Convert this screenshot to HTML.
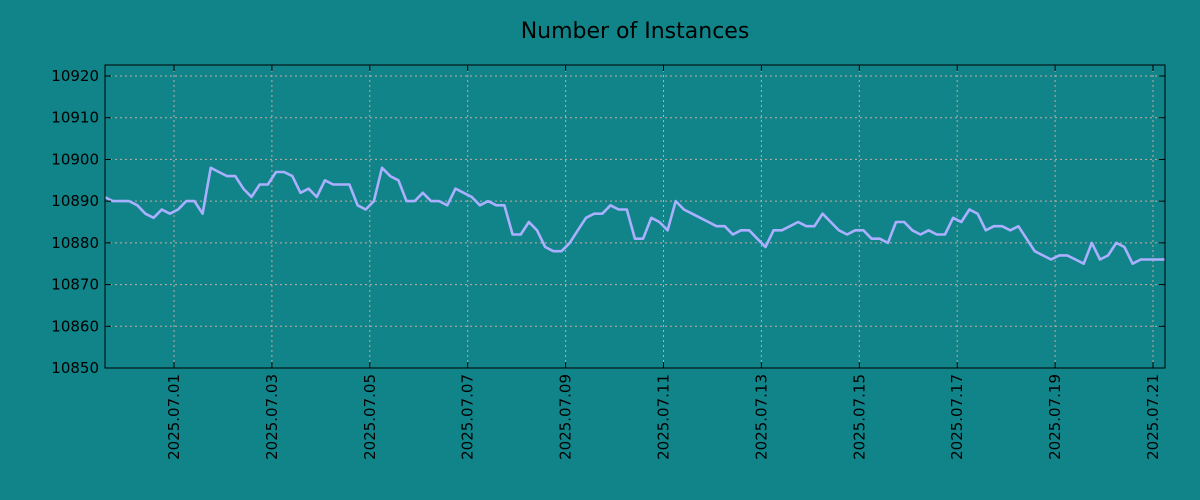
<!DOCTYPE html>
<html><head><meta charset="utf-8"><style>
body{margin:0;background:#108488;}
svg{display:block;font-family:"DejaVu Sans","Liberation Sans",sans-serif;}
</style></head><body>
<svg id="chart" width="1200" height="500" xmlns="http://www.w3.org/2000/svg">
<rect width="1200" height="500" fill="#108488"/>
<text x="635" y="38" font-size="22" text-anchor="middle" fill="#000">Number of Instances</text>
<g id="grid"></g><g id="series"></g><g id="axes"></g>
</svg>
<script>
const startHour = -34; // hours relative to 2025.07.01 00:00
const stepHours = 4;
const values = [10891,10890,10890,10890,10889,10887,10886,10888,10887,10888,10890,10890,10887,10898,10897,10896,10896,10893,10891,10894,10894,10897,10897,10896,10892,10893,10891,10895,10894,10894,10894,10889,10888,10890,10898,10896,10895,10890,10890,10892,10890,10890,10889,10893,10892,10891,10889,10890,10889,10889,10882,10882,10885,10883,10879,10878,10878,10880,10883,10886,10887,10887,10889,10888,10888,10881,10881,10886,10885,10883,10890,10888,10887,10886,10885,10884,10884,10882,10883,10883,10881,10879,10883,10883,10884,10885,10884,10884,10887,10885,10883,10882,10883,10883,10881,10881,10880,10885,10885,10883,10882,10883,10882,10882,10886,10885,10888,10887,10883,10884,10884,10883,10884,10881,10878,10877,10876,10877,10877,10876,10875,10880,10876,10877,10880,10879,10875,10876,10876,10876,10876];
const yTicks = [10850,10860,10870,10880,10890,10900,10910,10920];
const xTickLabels = ["2025.07.01","2025.07.03","2025.07.05","2025.07.07","2025.07.09","2025.07.11","2025.07.13","2025.07.15","2025.07.17","2025.07.19","2025.07.21"];
const xTickHours = [0,48,96,144,192,240,288,336,384,432,480];

const L=105,R=1165,T=65,B=368;
const yMin=10850,yMax=10922.64;
const xScale=h=>174+h*(1153-174)/480;
const yScale=v=>B-(v-yMin)/(yMax-yMin)*(B-T);
const NS="http://www.w3.org/2000/svg";
function mk(tag,attrs,parent){const e=document.createElementNS(NS,tag);for(const k in attrs)e.setAttribute(k,attrs[k]);parent.appendChild(e);return e;}
const grid=document.getElementById('grid'),axes=document.getElementById('axes'),series=document.getElementById('series');

yTicks.forEach(v=>{
  const y=yScale(v);
  if(v>yMin){const g=mk('line',{x1:L,x2:R,y1:y,y2:y,stroke:'#c8a8a0','stroke-width':1,'stroke-dasharray':'2,3'},grid);
  
  }
  mk('line',{x1:L,x2:L+6,y1:y,y2:y,stroke:'#000'},axes);
  mk('line',{x1:R-6,x2:R,y1:y,y2:y,stroke:'#000'},axes);
  const t=mk('text',{x:L-6,y:y+5,'font-size':15,'text-anchor':'end',fill:'#000'},axes);
  t.textContent=v;
  
  
});
xTickHours.forEach((h,i)=>{
  const x=xScale(h);
  const g=mk('line',{x1:x,x2:x,y1:T,y2:B,stroke:'#c8a8a0','stroke-width':1,'stroke-dasharray':'2,3'},grid);
  
  
  mk('line',{x1:x,x2:x,y1:B-6,y2:B,stroke:'#000'},axes);
  mk('line',{x1:x,x2:x,y1:T,y2:T+6,stroke:'#000'},axes);
  const t=mk('text',{x:0,y:0,'font-size':15,'text-anchor':'end',fill:'#000',transform:`translate(${x+5},${B+6}) rotate(-90)`},axes);
  t.textContent=xTickLabels[i];
  
  
});
const frame=mk('rect',{x:L,y:T,width:R-L,height:B-T,fill:'none',stroke:'#000','stroke-width':1},axes);



mk('clipPath',{id:'clip'},series).appendChild(Object.assign(document.createElementNS(NS,'rect'),{}));
const cr=series.querySelector('clipPath rect');cr.setAttribute('x',L);cr.setAttribute('y',T);cr.setAttribute('width',R-L);cr.setAttribute('height',B-T);
const pts=values.map((v,i)=>xScale(startHour+i*stepHours).toFixed(1)+','+yScale(v).toFixed(1)).join(' ');
const line=mk('polyline',{points:pts,fill:'none',stroke:'#aab0ff','stroke-width':2.6,'stroke-linejoin':'round','clip-path':'url(#clip)'},series);


</script>
</body></html>
